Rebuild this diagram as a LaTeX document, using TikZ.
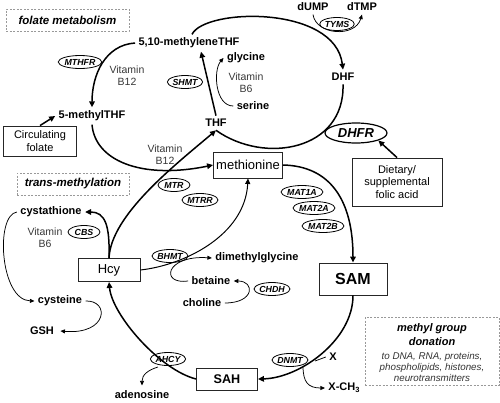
\documentclass[tikz,border=0pt]{standalone}
\usepackage{fontspec}
\setmainfont{Liberation Sans}
\usetikzlibrary{arrows.meta,shapes.geometric}
\begin{document}
\begin{tikzpicture}[x=1pt,y=-1pt,
  bl/.style={font=\fontsize{11}{12}\selectfont\bfseries},
  vit/.style={font=\fontsize{10.5}{12}\selectfont, text=black!78, align=center, inner sep=1pt},
  enz/.style={ellipse, draw, line width=0.8pt, font=\fontsize{8.8}{9}\selectfont\bfseries\itshape, inner xsep=0pt, inner ysep=0pt, minimum width=32pt, minimum height=13pt},
  boxn/.style={draw=black!85, line width=0.9pt, font=\fontsize{11}{12.5}\selectfont, align=center, inner sep=1pt},
  dbox/.style={draw=black!40, dash pattern=on 2pt off 1.5pt, line width=0.8pt, font=\fontsize{11.5}{13}\selectfont\bfseries\itshape, inner sep=1pt},
  mainarr/.style={line width=1.5pt, -{Triangle[length=6pt,width=5.5pt]}},
  mainline/.style={line width=1.5pt},
  medarr/.style={line width=1pt, -{Triangle[length=5.5pt,width=5pt]}},
  thinarr/.style={line width=0.75pt, -{Triangle[length=4.5pt,width=4pt]}},
  thinline/.style={line width=0.75pt}
]
\useasboundingbox (0,0) rectangle (500,402);

% ---- folate cycle ----
\node[dbox, minimum width=123pt, minimum height=22pt] (folt) at (67.5,20) {folate metabolism};
\node[bl] (mTHF) at (189,43) {5,10-methyleneTHF};
\node[enz] (mthfr) at (80,62) {MTHFR};
\node[vit] (vb12a) at (127,76) {Vitamin\\B12};
\node[bl] (meTHF) at (92,116) {5-methylTHF};
\node[boxn, minimum width=73pt, minimum height=30pt] (circ) at (40,141) {Circulating\\folate};
\node[bl] (thf) at (216,123) {THF};
\node[vit] (vb12b) at (165,155) {Vitamin\\B12};
\node[enz] (shmt) at (185,82) {SHMT};
\node[bl] (gly) at (246,58) {glycine};
\node[vit] (vb6a) at (246,83) {Vitamin\\B6};
\node[bl] (ser) at (253,106) {serine};
\node[bl] (dhf) at (343,77) {DHF};
\node[bl] (dump) at (313,7) {dUMP};
\node[bl] (dtmp) at (362,7) {dTMP};
\node[enz] (tyms) at (337,24) {TYMS};
\node[ellipse, draw, line width=1.2pt, font=\fontsize{13}{14}\selectfont\bfseries\itshape, inner sep=0pt, minimum width=62pt, minimum height=20pt] (dhfr) at (356,133) {DHFR};
\node[boxn, minimum width=90pt, minimum height=48pt] (diet) at (397,182) {Dietary/\\supplemental\\folic acid};

% ---- methionine cycle ----
\node[boxn, font=\fontsize{13}{14}\selectfont, minimum width=69pt, minimum height=26pt] (met) at (248,165) {methionine};
\node[dbox, minimum width=112pt, minimum height=22pt] (trt) at (73,184) {trans-methylation};
\node[enz] (mtr) at (174,185) {MTR};
\node[enz] (mtrr) at (200,200) {MTRR};
\node[enz] (mat1a) at (302,192) {MAT1A};
\node[enz] (mat2a) at (314,208) {MAT2A};
\node[enz] (mat2b) at (323,226) {MAT2B};
\node[bl] (cyst) at (51,212) {cystathione};
\node[vit] (vb6b) at (45,238) {Vitamin\\B6};
\node[enz] (cbs) at (84,232) {CBS};
\node[boxn, font=\fontsize{13}{14}\selectfont, minimum width=62pt, minimum height=23pt] (hcy) at (109,270) {Hcy};
\node[enz] (bhmt) at (170,256) {BHMT};
\node[bl] (dmg) at (257,258) {dimethylglycine};
\node[bl] (bet) at (211,281) {betaine};
\node[bl] (chol) at (202,303) {choline};
\node[enz] (chdh) at (272,289) {CHDH};
\node[boxn, font=\fontsize{16}{17}\selectfont\bfseries, minimum width=68pt, minimum height=32pt] (sam) at (353,279) {SAM};
\node[bl] (cys) at (60,301) {cysteine};
\node[bl] (gsh) at (42,331) {GSH};
\node[enz] (ahcy) at (168,359) {AHCY};
\node[boxn, font=\fontsize{12.6}{14}\selectfont\bfseries, minimum width=61pt, minimum height=22pt] (sah) at (227,379) {SAH};
\node[enz] (dnmt) at (290,360) {DNMT};
\node[bl] (x) at (333,357) {X};
\node[bl] (xch3) at (344,388) {X-CH\raisebox{-0.35ex}{\fontsize{7.5}{8}\selectfont 3}};
\node[bl] (adeno) at (142,395) {adenosine};

% ---- methyl group donation ----
\node[draw=black!40, dash pattern=on 2pt off 1.5pt, line width=0.8pt, minimum width=134pt, minimum height=68pt] (mgd) at (432,351) {};
\node[font=\fontsize{11}{14}\selectfont\bfseries\itshape, align=center, inner sep=0pt] (mg1) at (432,335) {methyl group\\donation};
\node[font=\fontsize{9.8}{10.8}\selectfont\itshape, text=black!80, align=center, inner sep=0pt] (mg2) at (432,367) {to DNA, RNA, proteins,\\phospholipids, histones,\\neurotransmitters};

\coordinate (xj) at (315,361);
\coordinate (xo) at (303,366);
\coordinate (ao) at (158,367);

% ---- connectors: folate cycle ----
\draw[mainarr] (mTHF.west) .. controls (105,45) and (92,75) .. (meTHF.north);
\draw[mainarr] (circ.north) -- (meTHF.west);
\draw[mainarr] (meTHF.south) .. controls (95,160) and (140,180) .. (met.west);
\draw[mainarr] (hcy.north) .. controls (111,215) and (175,165) .. (thf.south);
\draw[mainline] (dhf.south) .. controls (345,150) and (265,165) .. (thf.south);
\draw[mainarr] (thf.north) -- ([xshift=12pt]mTHF.south);
\draw[thinarr] (ser.west) .. controls (215,106) and (213,70) .. (gly.west);
\draw[mainarr] ([xshift=3pt]mTHF.north) .. controls (205,8) and (335,5) .. (dhf.north);
\draw[thinarr] (dump.south) .. controls (316,35) and (355,38) .. (dtmp.south);
\draw[mainarr] (diet.north) -- (dhfr.south east);

% ---- connectors: methionine cycle ----
\draw[mainarr] (met.east) .. controls (330,166) and (353,200) .. (sam.north);
\draw[mainarr] (sam.south) .. controls (353,340) and (300,378) .. (sah.east);
\draw[mainarr] (sah.west) .. controls (160,370) and (112,315) .. (hcy.south);
\draw[mainarr] (hcy.north) .. controls (110,225) and (105,212) .. (cyst.east);
\draw[thinarr] (cyst.west) .. controls (-5,215) and (0,300) .. (cys.west);
\draw[thinarr] (cys.east) .. controls (110,300) and (108,335) .. ([xshift=3pt]gsh.east);
\draw[medarr] (hcy.east) .. controls (185,265) and (245,235) .. (met.south);
\draw[thinarr] (bet.west) .. controls (160,285) and (165,255) .. (dmg.west);
\draw[thinarr] (chol.east) .. controls (255,303) and (255,281) .. (bet.east);
\draw[thinline] (x.west) -- (xj);
\draw[thinarr] (xo) .. controls (303,382) and (308,388) .. (xch3.west);
\draw[thinarr, shorten >=2pt] (ao) .. controls (148,370) and (142,375) .. (adeno.north);
\end{tikzpicture}
\end{document}
